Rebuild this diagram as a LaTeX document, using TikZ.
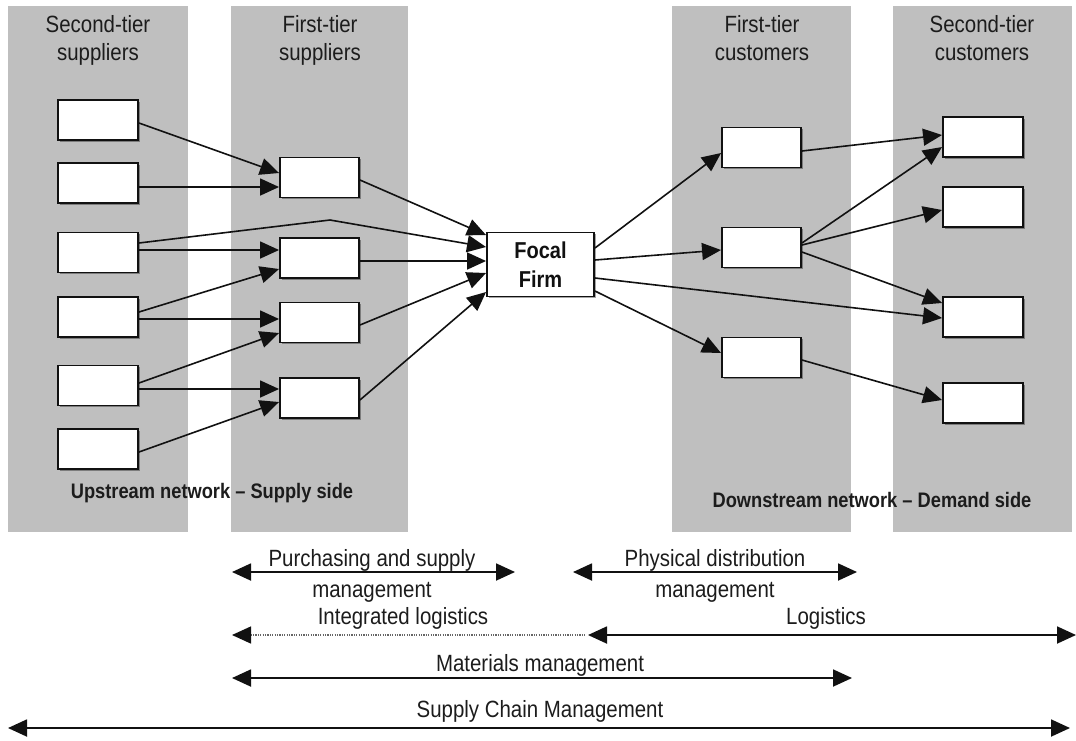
\documentclass[tikz,border=0pt]{standalone}
\usepackage{fontspec}
\setmainfont{Liberation Sans}[FakeStretch=0.87]
\usetikzlibrary{arrows.meta,calc,shadows}
\definecolor{band}{HTML}{BFBFBF}
\definecolor{ink}{HTML}{111111}
\definecolor{txt}{HTML}{1C1C1C}
\begin{document}
\begin{tikzpicture}[x=1pt,y=-1pt,
  box/.style={draw=ink, line width=1.9pt, fill=white, minimum width=80pt,
    minimum height=40pt, inner sep=0pt,
    drop shadow={shadow xshift=1.5pt, shadow yshift=-1.5pt, opacity=0.35, fill=black}},
  conn/.style={draw=ink, line width=1.6pt, -{Triangle[length=19pt,width=17pt]}},
  span/.style={draw=ink, line width=1.8pt,
    {Triangle[length=19pt,width=17pt]}-{Triangle[length=19pt,width=17pt]}},
  head/.style={text=txt, inner sep=0pt, anchor=base, font=\fontsize{23.5}{28}\selectfont},
  lbl/.style={text=txt, inner sep=0pt, anchor=base, font=\fontsize{23.5}{28}\selectfont},
  net/.style={text=txt, inner sep=0pt, anchor=base, font=\bfseries\fontsize{21}{25}\selectfont}]
\useasboundingbox (0,0) rectangle (1076,740);

% tier bands
\fill[band] (8,6) rectangle (188,532);
\fill[band] (231,6) rectangle (408,532);
\fill[band] (672,6) rectangle (851,532);
\fill[band] (893,6) rectangle (1072,532);

% band headings
\node[head] (h1a) at (98,32) {Second-tier};
\node[head] (h1b) at (98,60) {suppliers};
\node[head] (h2a) at (320,32) {First-tier};
\node[head] (h2b) at (320,60) {suppliers};
\node[head] (h3a) at (762,32) {First-tier};
\node[head] (h3b) at (762,60) {customers};
\node[head] (h4a) at (982,32) {Second-tier};
\node[head] (h4b) at (982,60) {customers};

% second-tier suppliers
\node[box] (s1) at (98,120) {};
\node[box] (s2) at (98,183) {};
\node[box] (s3) at (98,252.5) {};
\node[box] (s4) at (98,317) {};
\node[box] (s5) at (98,385.5) {};
\node[box] (s6) at (98,449) {};

% first-tier suppliers
\node[box, minimum width=79pt] (f1) at (319.5,177.5) {};
\node[box, minimum width=79pt] (f2) at (319.5,258) {};
\node[box, minimum width=79pt] (f3) at (319.5,322.5) {};
\node[box, minimum width=79pt] (f4) at (319.5,398) {};

% focal firm
\node[box, minimum width=107pt, minimum height=64pt, align=center,
  font=\bfseries\fontsize{23}{29}\selectfont, text=ink] (focal) at (540.5,264.5) {Focal\\Firm};

% first-tier customers
\node[box, minimum width=79pt] (c1) at (761.5,147.5) {};
\node[box, minimum width=79pt] (c2) at (761.5,247.5) {};
\node[box, minimum width=79pt] (c3) at (761.5,357.5) {};

% second-tier customers
\node[box] (d1) at (983,137) {};
\node[box] (d2) at (983,207) {};
\node[box] (d3) at (983,317) {};
\node[box] (d4) at (983,403) {};

% supply side flows
\draw[conn] ($(s1.east)+(0,3)$) -- ($(f1.west)+(0,-4.5)$);
\draw[conn] ($(s2.east)+(0,4)$) -- ($(f1.west)+(0,9.5)$);
\coordinate (bend) at (330,220);
\draw[conn] ($(s3.east)+(0,-9.5)$) -- (bend) -- ($(focal.west)+(0,-17.5)$);
\draw[conn] ($(s3.east)+(0,-2.5)$) -- ($(f2.west)+(0,-8)$);
\draw[conn] ($(s4.east)+(0,-5)$) -- ($(f2.west)+(0,11)$);
\draw[conn] ($(s4.east)+(0,2)$) -- ($(f3.west)+(0,-3.5)$);
\draw[conn] ($(s5.east)+(0,-2.5)$) -- ($(f3.west)+(0,10.5)$);
\draw[conn] ($(s5.east)+(0,3.5)$) -- ($(f4.west)+(0,-9)$);
\draw[conn] ($(s6.east)+(0,3)$) -- ($(f4.west)+(0,4)$);
\draw[conn] ($(f1.east)+(0,2.5)$) -- ($(focal.west)+(0,-29.5)$);
\draw[conn] ($(f2.east)+(0,3)$) -- ($(focal.west)+(0,-3.5)$);
\draw[conn] ($(f3.east)+(0,2.5)$) -- ($(focal.west)+(0,8.5)$);
\draw[conn] ($(f4.east)+(0,2)$) -- ($(focal.west)+(0,27.5)$);

% demand side flows
\draw[conn] ($(focal.east)+(0,-16.5)$) -- ($(c1.west)+(0,5.5)$);
\draw[conn] ($(focal.east)+(0,-4.5)$) -- ($(c2.west)+(0,2.5)$);
\draw[conn] ($(focal.east)+(0,13.5)$) -- ($(d3.west)+(0,1)$);
\draw[conn] ($(focal.east)+(0,26.5)$) -- ($(c3.west)+(0,-4.5)$);
\draw[conn] ($(c1.east)+(0,3.5)$) -- ($(d1.west)+(0,-2)$);
\draw[conn] ($(c2.east)+(0,-4.5)$) -- ($(d1.west)+(0,10)$);
\draw[conn] ($(c2.east)+(0,-2.5)$) -- ($(d2.west)+(0,3)$);
\draw[conn] ($(c2.east)+(0,4.5)$) -- ($(d3.west)+(0,-14)$);
\draw[conn] ($(c3.east)+(0,2.5)$) -- ($(d4.west)+(0,-3)$);

% network labels
\node[net] (up) at (212,498) {Upstream network -- Supply side};
\node[net] (down) at (872,507) {Downstream network -- Demand side};

% management scopes
\coordinate (pL) at (232,572);  \coordinate (pR) at (515,572);
\coordinate (dL) at (573,572);  \coordinate (dR) at (857,572);
\coordinate (iL) at (232,635);  \coordinate (iR) at (585,635);
\coordinate (lL) at (588,635);  \coordinate (lR) at (1076,635);
\coordinate (mL) at (232,678);  \coordinate (mR) at (852,678);
\coordinate (sL) at (8,728);    \coordinate (sR) at (1070,728);

\draw[span] (pL) -- (pR);
\draw[span] (dL) -- (dR);
\draw[draw=black!60, line width=1.4pt, dash pattern=on 1.2pt off 1.2pt,
  {Triangle[length=19pt,width=17pt,color=ink]}-] (iL) -- (iR);
\draw[span] (lL) -- (lR);
\draw[span] (mL) -- (mR);
\draw[span] (sL) -- (sR);

\node[lbl] (pa) at (372,566) {Purchasing and supply};
\node[lbl] (pb) at (372,597) {management};
\node[lbl] (da) at (715,566) {Physical distribution};
\node[lbl] (db) at (715,597) {management};
\node[lbl] (il) at (403,624) {Integrated logistics};
\node[lbl] (lg) at (826,624) {Logistics};
\node[lbl] (mm) at (540,671) {Materials management};
\node[lbl] (scm) at (540,717) {Supply Chain Management};
\end{tikzpicture}
\end{document}
